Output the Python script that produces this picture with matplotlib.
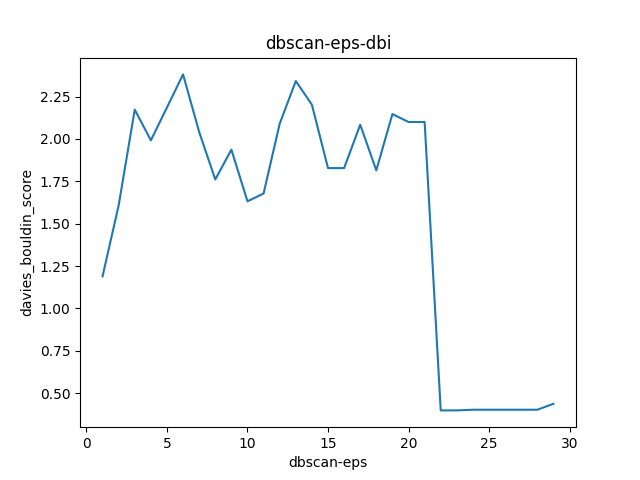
import matplotlib
matplotlib.use("Agg")
import matplotlib.pyplot as plt

# eps values and the Davies-Bouldin score
eps = list(range(1, 30))
dbi = [1.189, 1.608, 2.173, 1.992, 2.186, 2.381, 2.041, 1.761, 1.937, 1.632,
       1.678, 2.090, 2.342, 2.202, 1.828, 1.828, 2.084, 1.815, 2.147, 2.100,
       2.100, 0.398, 0.398, 0.402, 0.402, 0.402, 0.402, 0.402, 0.437]

plt.figure(figsize=(6.4, 4.8), dpi=100)
plt.plot(eps, dbi)
plt.title("dbscan-eps-dbi")
plt.xlabel("dbscan-eps")
plt.ylabel("davies_bouldin_score")
plt.savefig("out.png")
